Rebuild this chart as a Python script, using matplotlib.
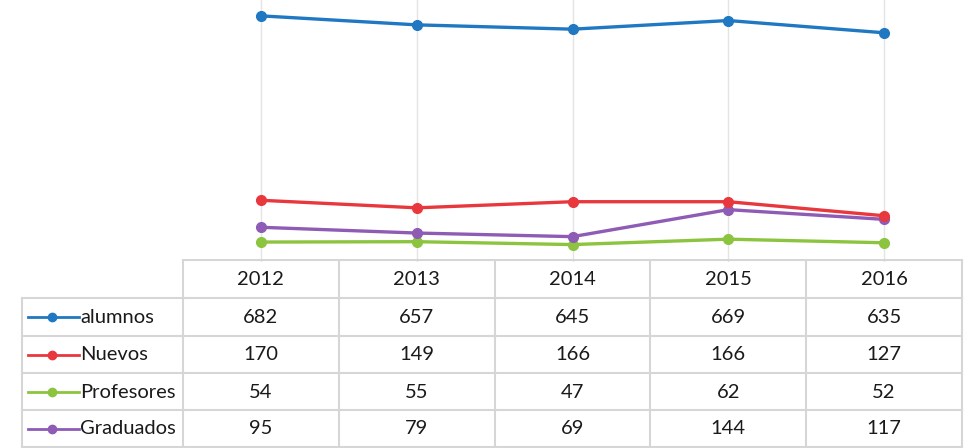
import numpy as np
import matplotlib.pyplot as plt

years = ['2012', '2013', '2014', '2015', '2016']
series_names = ['alumnos', 'Nuevos', 'Profesores', 'Graduados']
alumnos = [682, 657, 645, 669, 635]
nuevos = [170, 149, 166, 166, 127]
profesores = [54, 55, 47, 62, 52]
graduados = [95, 79, 69, 144, 117]
colors = ['#1f78c1', '#e8383d', '#8cc43f', '#8e5bb5']

plt.rcParams['font.family'] = ['Lato', 'DejaVu Sans']

W, H = 964, 448
fig = plt.figure(figsize=(W / 100, H / 100), dpi=100)

# line chart area
ax = fig.add_axes([183 / W, (H - 261.5) / H, (962 - 183) / W, 261.5 / H])
x = np.arange(len(years))
all_series = [alumnos, nuevos, profesores, graduados]
for xi in x:
    ax.axvline(xi, color='#e4e4e4', lw=1, zorder=0)
# draw in back-to-front order so purple sits under red
for idx in [2, 3, 1, 0]:
    ax.plot(x, all_series[idx], color=colors[idx], lw=2.4, marker='o',
            markersize=7, zorder=3)
ax.set_xlim(-0.5, len(years) - 0.5)
ax.set_ylim(0, 726)
ax.axis('off')

# data table underneath
tab = fig.add_axes([0, 0, 1, (H - 259) / H])
tab.set_xlim(0, W)
tab.set_ylim(H, 259)
tab.axis('off')
grid = '#d6d6d6'
col_edges = [183 + 155.8 * i for i in range(6)]
row_edges = [260, 298.5, 336.5, 373.5, 410.5, 447]

# header row borders
tab.plot([col_edges[0], col_edges[-1]], [row_edges[0]] * 2, color=grid, lw=1.5)
for r in row_edges[1:]:
    tab.plot([22, col_edges[-1]], [r, r], color=grid, lw=1.5)
for c in col_edges:
    tab.plot([c, c], [row_edges[0], row_edges[-1]], color=grid, lw=1.5)
tab.plot([22, 22], [row_edges[1], row_edges[-1]], color=grid, lw=1.5)

fs = 14.5
for j, yr in enumerate(years):
    cx = (col_edges[j] + col_edges[j + 1]) / 2
    tab.text(cx, (row_edges[0] + row_edges[1]) / 2, yr, ha='center',
             va='center', fontsize=fs, color='#1a1a1a')
for i, (name, vals) in enumerate(zip(series_names, all_series)):
    cy = (row_edges[i + 1] + row_edges[i + 2]) / 2
    tab.plot([28, 79], [cy, cy], color=colors[i], lw=2)
    tab.plot([52], [cy], marker='o', color=colors[i], markersize=6)
    tab.text(80, cy, name, ha='left', va='center', fontsize=fs,
             color='#1a1a1a')
    for j, v in enumerate(vals):
        cx = (col_edges[j] + col_edges[j + 1]) / 2
        tab.text(cx, cy, str(v), ha='center', va='center', fontsize=fs,
                 color='#1a1a1a')

fig.savefig('out.png', dpi=100)
